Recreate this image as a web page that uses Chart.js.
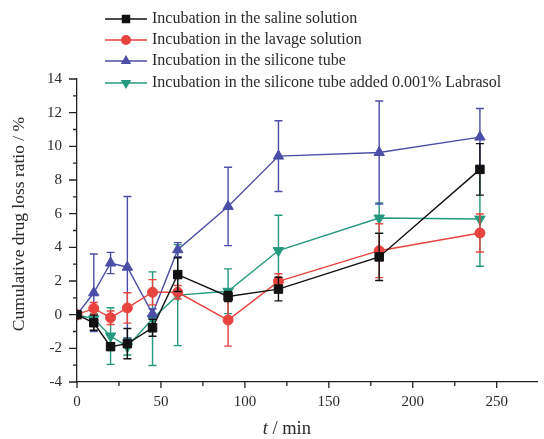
<!DOCTYPE html>
<html>
<head>
<meta charset="utf-8">
<script src="https://cdn.jsdelivr.net/npm/chart.js@4/dist/chart.umd.min.js"></script>
<style>
html,body{margin:0;padding:0;background:#fff;}
#c{display:block;}
</style>
</head>
<body>
<canvas id="c" width="544" height="439"></canvas>
<script>
// ---- data ----
const times = [0, 10, 20, 30, 45, 60, 90, 120, 180, 240];
const seriesNames = [
  'Incubation in the saline solution',
  'Incubation in the lavage solution',
  'Incubation in the silicone tube',
  'Incubation in the silicone tube added 0.001% Labrasol'
];
const saline      = [0, -0.48, -1.9, -1.72, -0.78, 2.38, 1.08, 1.52, 3.43, 8.63];
const salineErr   = [0, 0.45, 0.2, 0.9, 0.5, 1.0, 0.3, 0.7, 1.4, 1.53];
const lavage      = [0, 0.37, -0.18, 0.4, 1.33, 1.33, -0.32, 1.98, 3.8, 4.85];
const lavageErr   = [0, 0.35, 0.4, 0.9, 0.75, 0.4, 1.55, 0.45, 1.6, 1.13];
const silicone    = [0, 1.3, 3.07, 2.82, 0.05, 3.86, 6.43, 9.42, 9.63, 10.55];
const siliconeErr = [0, 2.3, 0.63, 4.2, 0.3, 0.42, 2.33, 2.1, 3.06, 1.7];
const labrasol    = [0, -0.25, -1.27, -1.9, -0.24, 1.16, 1.39, 3.81, 5.74, 5.68];
const labrasolErr = [0, 0.3, 1.68, 0.5, 2.78, 3.0, 1.33, 2.1, 0.9, 2.8];
const xTickLabels = [0, 50, 100, 150, 200, 250];
const yTickLabels = [-4, -2, 0, 2, 4, 6, 8, 10, 12, 14];

const colors = ['#111111', '#e8433f', '#4b4ea6', '#23997f'];
const styles = [
  {pointStyle: 'rect', radius: 6, rotation: 0},
  {pointStyle: 'circle', radius: 5, rotation: 0},
  {pointStyle: 'triangle', radius: 6, rotation: 0},
  {pointStyle: 'triangle', radius: 6, rotation: 180}
];
const values = [saline, lavage, silicone, labrasol];
const errors = [salineErr, lavageErr, siliconeErr, labrasolErr];

const FONT = "'Liberation Serif', 'Times New Roman', serif";
const TXT = '#2a2a2a';

const datasets = values.map((vals, k) => ({
  label: seriesNames[k],
  data: times.map((t, i) => ({x: t, y: vals[i]})),
  errs: errors[k],
  borderColor: colors[k],
  backgroundColor: colors[k],
  borderWidth: 1.4,
  pointStyle: styles[k].pointStyle,
  pointRadius: styles[k].radius,
  pointRotation: styles[k].rotation,
  pointBorderWidth: 1,
  pointBorderColor: colors[k],
  pointBackgroundColor: colors[k],
  tension: 0
}));

const errPlugin = {
  id: 'errbars',
  beforeDatasetDraw(chart, args) {
    const ds = chart.data.datasets[args.index];
    const xs = chart.scales.x, ys = chart.scales.y;
    const ctx = chart.ctx;
    ctx.save();
    ctx.strokeStyle = ds.borderColor;
    ctx.lineWidth = 1.4;
    ds.data.forEach((p, i) => {
      const e = ds.errs[i];
      if (!e) return;
      const px = xs.getPixelForValue(p.x);
      const yt = ys.getPixelForValue(p.y + e);
      const yb = ys.getPixelForValue(p.y - e);
      ctx.beginPath();
      ctx.moveTo(px, yt); ctx.lineTo(px, yb);
      ctx.moveTo(px - 4, yt); ctx.lineTo(px + 4, yt);
      ctx.moveTo(px - 4, yb); ctx.lineTo(px + 4, yb);
      ctx.stroke();
    });
    ctx.restore();
  }
};

function marker(ctx, style, x, y, r, color) {
  ctx.save();
  ctx.fillStyle = color;
  ctx.beginPath();
  if (style.pointStyle === 'rect') {
    const s = r * Math.SQRT1_2;
    ctx.rect(x - s, y - s, 2 * s, 2 * s);
  } else if (style.pointStyle === 'circle') {
    ctx.arc(x, y, r, 0, Math.PI * 2);
  } else {
    const dir = style.rotation === 180 ? -1 : 1;
    ctx.moveTo(x, y - dir * r);
    ctx.lineTo(x - r * 0.866, y + dir * r * 0.5);
    ctx.lineTo(x + r * 0.866, y + dir * r * 0.5);
    ctx.closePath();
  }
  ctx.fill();
  ctx.restore();
}

const decorPlugin = {
  id: 'decor',
  afterDraw(chart) {
    const ctx = chart.ctx;
    const xs = chart.scales.x, ys = chart.scales.y;
    const area = chart.chartArea;
    ctx.save();
    // ticks
    ctx.strokeStyle = '#222';
    ctx.lineWidth = 1.3;
    ctx.beginPath();
    for (let v = 0; v <= 250; v += 25) {
      const px = xs.getPixelForValue(v);
      const len = xTickLabels.includes(v) ? 6 : 4;
      ctx.moveTo(px, area.bottom); ctx.lineTo(px, area.bottom + len);
    }
    for (let v = -4; v <= 14; v += 1) {
      const py = ys.getPixelForValue(v);
      const len = yTickLabels.includes(v) ? 8 : 4;
      ctx.moveTo(area.left, py); ctx.lineTo(area.left - len, py);
    }
    ctx.stroke();

    // axis titles
    ctx.fillStyle = TXT;
    ctx.textBaseline = 'middle';
    ctx.font = 'italic 18.5px ' + FONT;
    const tW = ctx.measureText('t').width;
    ctx.font = '18.5px ' + FONT;
    const restW = ctx.measureText(' / min').width;
    const cx = (xs.getPixelForValue(0) + xs.getPixelForValue(250)) / 2;
    let sx = cx - (tW + restW) / 2;
    ctx.textAlign = 'left';
    ctx.font = 'italic 18.5px ' + FONT;
    ctx.fillText('t', sx, 429);
    ctx.font = '18.5px ' + FONT;
    ctx.fillText(' / min', sx + tW, 429);

    ctx.save();
    ctx.translate(19, 224);
    ctx.rotate(-Math.PI / 2);
    ctx.textAlign = 'center';
    ctx.font = '17.5px ' + FONT;
    ctx.fillText('Cumulative drug loss ratio / %', 0, 0);
    ctx.restore();

    // legend
    const rowsY = [19, 40, 61, 83];
    chart.data.datasets.forEach((ds, k) => {
      const y = rowsY[k];
      ctx.strokeStyle = ds.borderColor;
      ctx.lineWidth = 1.5;
      ctx.beginPath();
      ctx.moveTo(105, y); ctx.lineTo(147, y);
      ctx.stroke();
      marker(ctx, styles[k], 126, y, styles[k].radius, ds.borderColor);
      ctx.fillStyle = TXT;
      ctx.font = '16px ' + FONT;
      ctx.textAlign = 'left';
      ctx.textBaseline = 'middle';
      ctx.fillText(ds.label, 152, y);
    });
    ctx.restore();
  }
};

new Chart(document.getElementById('c'), {
  type: 'line',
  data: {datasets},
  plugins: [errPlugin, decorPlugin],
  options: {
    responsive: false,
    animation: false,
    devicePixelRatio: 1,
    layout: {padding: {top: 79, right: 1.5, left: 0, bottom: 0}},
    plugins: {legend: {display: false}, tooltip: {enabled: false}},
    scales: {
      x: {
        type: 'linear',
        min: 0, max: 274,
        afterFit(s) { s.height = 57; },
        border: {display: true, color: '#222', width: 1.3},
        grid: {display: true, drawOnChartArea: false, drawTicks: false},
        ticks: {
          stepSize: 50,
          includeBounds: false,
          padding: 11,
          color: TXT,
          font: {family: FONT, size: 15},
          maxRotation: 0,
          callback: v => xTickLabels.includes(v) ? String(v) : ''
        }
      },
      y: {
        type: 'linear',
        min: -4, max: 14,
        afterFit(s) { s.width = 77; },
        border: {display: true, color: '#222', width: 1.3},
        grid: {display: true, drawOnChartArea: false, drawTicks: false},
        ticks: {
          stepSize: 2,
          padding: 15,
          color: TXT,
          font: {family: FONT, size: 15},
          callback: v => yTickLabels.includes(v) ? String(v) : ''
        }
      }
    }
  }
});
</script>
</body>
</html>
